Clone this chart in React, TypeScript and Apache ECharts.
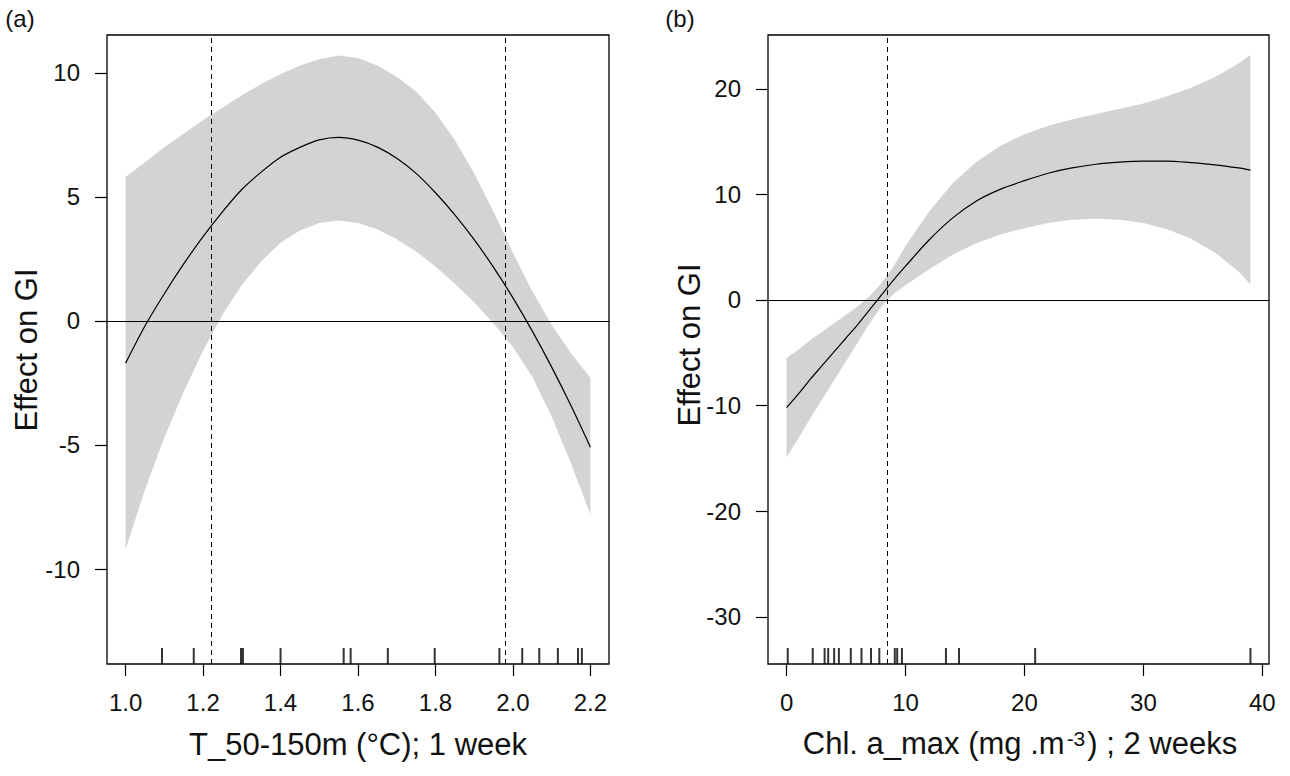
import React, { useEffect, useRef } from "react";
import * as echarts from "echarts";

// ---------- Panel (a): T_50-150m ----------
const xA = [1.0, 1.05, 1.1, 1.15, 1.2, 1.25, 1.3, 1.35, 1.4, 1.45, 1.5, 1.55, 1.6, 1.65, 1.7, 1.75, 1.8, 1.85, 1.9, 1.95, 2.0, 2.05, 2.1, 2.15, 2.2];
const fitA = [-1.7, -0.2, 1.1, 2.3, 3.4, 4.4, 5.3, 6.0, 6.6, 7.0, 7.3, 7.4, 7.29, 7.01, 6.56, 5.95, 5.17, 4.28, 3.28, 2.16, 0.93, -0.41, -1.86, -3.42, -5.09];
const upperA = [5.8, 6.4, 7.0, 7.55, 8.1, 8.6, 9.1, 9.55, 9.95, 10.3, 10.55, 10.7, 10.6, 10.3, 9.85, 9.25, 8.4, 7.3, 5.95, 4.4, 2.75, 1.2, -0.15, -1.3, -2.3];
const lowerA = [-9.2, -6.8, -4.7, -2.85, -1.2, 0.25, 1.45, 2.4, 3.15, 3.65, 3.95, 4.05, 3.95, 3.7, 3.3, 2.8, 2.2, 1.5, 0.75, -0.1, -1.05, -2.25, -3.85, -5.75, -7.8];
const rugA = [1.094, 1.176, 1.298, 1.303, 1.4, 1.563, 1.581, 1.677, 1.798, 1.965, 2.024, 2.068, 2.116, 2.168, 2.178];
const vlinesA = [1.217, 1.977];
const xTicksA = [1.0, 1.2, 1.4, 1.6, 1.8, 2.0, 2.2];
const yTicksA = [-10, -5, 0, 5, 10];

// ---------- Panel (b): Chl. a_max ----------
const xB = [0, 1, 2, 3, 4, 5, 6, 7, 8, 9, 10, 12, 14, 16, 18, 20, 22, 24, 26, 28, 30, 32, 34, 36, 38, 39];
const fitB = [-10.2, -8.9, -7.5, -6.2, -4.9, -3.6, -2.3, -0.9, 0.5, 1.9, 3.2, 5.7, 7.8, 9.4, 10.5, 11.3, 12.0, 12.5, 12.85, 13.05, 13.15, 13.15, 13.0, 12.8, 12.5, 12.3];
const upperB = [-5.5, -4.7, -3.8, -3.0, -2.2, -1.4, -0.6, 0.4, 1.6, 3.2, 5.1, 8.4, 11.1, 13.1, 14.6, 15.7, 16.5, 17.1, 17.6, 18.1, 18.6, 19.3, 20.1, 21.1, 22.4, 23.2];
const lowerB = [-14.9, -13.1, -11.2, -9.4, -7.6, -5.8, -4.0, -2.2, -0.6, 0.6, 1.4, 2.9, 4.3, 5.4, 6.2, 6.8, 7.3, 7.6, 7.7, 7.6, 7.3, 6.7, 5.8, 4.5, 2.7, 1.5];
const rugB = [0.1, 2.2, 3.2, 3.5, 4.0, 4.4, 5.4, 6.3, 7.1, 7.8, 9.1, 9.3, 9.7, 13.4, 14.5, 20.9, 39.0];
const vlinesB = [8.47];
const xTicksB = [0, 10, 20, 30, 40];
const yTicksB = [-30, -20, -10, 0, 10, 20];

const FONT = "Liberation Sans, Arial, Helvetica, sans-serif";
const TXT = "#111";

const Y_A: [number, number] = [-13.83, 11.53];
const Y_B: [number, number] = [-34.47, 25.09];

function bandSeries(xs: number[], up: number[], lo: number[], idx: number) {
  return {
    type: "custom",
    xAxisIndex: idx,
    yAxisIndex: idx,
    silent: true,
    clip: true,
    z: 1,
    data: xs.map((x, i) => [x, up[i], lo[i]]),
    encode: { x: 0, y: [1, 2] },
    renderItem: (params: any, api: any) => {
      if (params.dataIndex !== 0) return null;
      const pts: number[][] = [];
      for (let i = 0; i < xs.length; i++) pts.push(api.coord([xs[i], up[i]]));
      for (let i = xs.length - 1; i >= 0; i--) pts.push(api.coord([xs[i], lo[i]]));
      return { type: "polygon", shape: { points: pts }, style: { fill: "#d3d3d3", stroke: "none" } };
    },
  };
}

function fitSeries(xs: number[], fit: number[], vlines: number[], idx: number) {
  return {
    type: "line",
    xAxisIndex: idx,
    yAxisIndex: idx,
    data: xs.map((x, i) => [x, fit[i]]),
    smooth: 0.3,
    symbol: "none",
    silent: true,
    z: 3,
    lineStyle: { color: "#000", width: 1.2 },
    markLine: {
      silent: true,
      symbol: ["none", "none"],
      label: { show: false },
      lineStyle: { color: "#000", width: 1 },
      data: [
        ...vlines.map((v) => ({ xAxis: v, lineStyle: { type: [5, 4], color: "#000", width: 1 } })),
        { yAxis: 0, lineStyle: { type: "solid", color: "#000", width: 1.1 } },
      ],
    },
  };
}

function rugSeries(rug: number[], ymin: number, idx: number) {
  return {
    type: "scatter",
    xAxisIndex: idx,
    yAxisIndex: idx,
    silent: true,
    clip: false,
    z: 4,
    data: rug.map((x) => [x, ymin]),
    symbol: "rect",
    symbolSize: [2, 16],
    symbolOffset: [0, -8],
    itemStyle: { color: "#000" },
  };
}

function xAxisDef(idx: number, min: number, max: number, ticks: number[], fmt: (v: number) => string) {
  return {
    type: "value",
    gridIndex: idx,
    min,
    max,
    axisLine: { show: false, onZero: false },
    splitLine: { show: false },
    axisTick: { show: true, inside: false, length: 12, customValues: ticks, lineStyle: { color: "#000", width: 1.2 } },
    axisLabel: { show: true, customValues: ticks, margin: 26, fontSize: 24, fontFamily: FONT, color: TXT, formatter: fmt },
  };
}

function yAxisDef(idx: number, min: number, max: number, ticks: number[]) {
  return {
    type: "value",
    gridIndex: idx,
    min,
    max,
    axisLine: { show: false, onZero: false },
    splitLine: { show: false },
    axisTick: { show: true, inside: false, length: 12, customValues: ticks, lineStyle: { color: "#000", width: 1.2 } },
    axisLabel: { show: true, customValues: ticks, margin: 27, fontSize: 24, fontFamily: FONT, color: TXT, formatter: (v: number) => String(v) },
  };
}

export default function App() {
  const ref = useRef<HTMLDivElement>(null);
  useEffect(() => {
    if (!ref.current) return;
    const chart = echarts.init(ref.current, null, { renderer: "svg" });
    const option: any = {
      animation: false,
      backgroundColor: "#fff",
      grid: [
        { left: 107, top: 35, width: 502, height: 629, show: true, borderColor: "#000", borderWidth: 1.3, backgroundColor: "transparent" },
        { left: 768, top: 35, width: 501, height: 629, show: true, borderColor: "#000", borderWidth: 1.3, backgroundColor: "transparent" },
      ],
      xAxis: [
        xAxisDef(0, 0.952, 2.248, xTicksA, (v: number) => v.toFixed(1)),
        xAxisDef(1, -1.56, 40.56, xTicksB, (v: number) => String(v)),
      ],
      yAxis: [yAxisDef(0, Y_A[0], Y_A[1], yTicksA), yAxisDef(1, Y_B[0], Y_B[1], yTicksB)],
      series: [
        bandSeries(xA, upperA, lowerA, 0),
        fitSeries(xA, fitA, vlinesA, 0),
        rugSeries(rugA, Y_A[0], 0),
        bandSeries(xB, upperB, lowerB, 1),
        fitSeries(xB, fitB, vlinesB, 1),
        rugSeries(rugB, Y_B[0], 1),
      ],
      graphic: [
        { type: "text", x: 20, y: 18, style: { text: "(a)", fontSize: 24, fontFamily: FONT, fill: TXT, align: "center", verticalAlign: "middle" } },
        { type: "text", x: 680, y: 18, style: { text: "(b)", fontSize: 24, fontFamily: FONT, fill: TXT, align: "center", verticalAlign: "middle" } },
        { type: "text", x: 26, y: 350, rotation: Math.PI / 2, style: { text: "Effect on GI", fontSize: 31, fontFamily: FONT, fill: TXT, align: "center", verticalAlign: "middle" } },
        { type: "text", x: 689, y: 345, rotation: Math.PI / 2, style: { text: "Effect on GI", fontSize: 31, fontFamily: FONT, fill: TXT, align: "center", verticalAlign: "middle" } },
        { type: "text", x: 358, y: 744, style: { text: "T_50-150m (°C); 1 week", fontSize: 31, fontFamily: FONT, fill: TXT, align: "center", verticalAlign: "middle" } },
        {
          type: "text",
          x: 1020,
          y: 743,
          style: {
            text: "Chl. a_max (mg .m{sup|-3}) ; 2 weeks",
            fontSize: 31,
            fontFamily: FONT,
            fill: TXT,
            align: "center",
            verticalAlign: "middle",
            rich: {
              sup: { fontSize: 21, fontFamily: FONT, fill: TXT, verticalAlign: "top", padding: [0, 2, 0, 2] },
            },
          },
        },
      ],
    };
    chart.setOption(option);
    return () => chart.dispose();
  }, []);
  return <div ref={ref} style={{ position: "fixed", left: 0, top: 0, width: 1290, height: 776 }} />;
}
